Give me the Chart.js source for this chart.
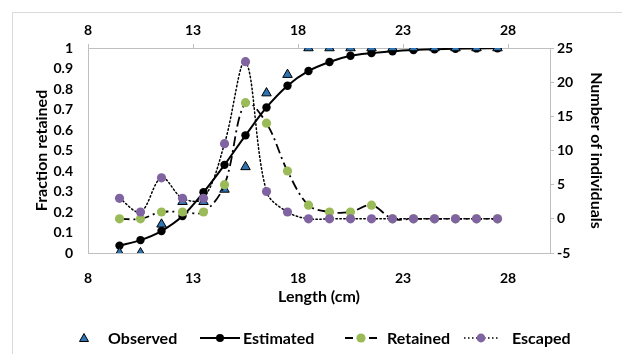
<!DOCTYPE html>
<html><head><meta charset="utf-8">
<script src="https://cdn.jsdelivr.net/npm/chart.js@4/dist/chart.umd.min.js"></script>
<style>
html,body{margin:0;padding:0;background:#fff;}
#wrap{position:relative;width:622px;height:354px;overflow:hidden;background:#fff;}
#frame{position:absolute;left:12px;top:12px;width:700px;height:500px;border:1px solid #d9d9d9;}
#c{position:absolute;left:0;top:0;}
.leg{position:absolute;top:328px;height:20px;font:bold 16px Lato, sans-serif;color:#000;white-space:nowrap;line-height:20px;}
.leg svg{position:absolute;top:0;left:0;}
.leg span{position:absolute;top:0;}
</style></head>
<body>
<div id="wrap">
<div id="frame"></div>
<canvas id="c" width="622" height="354"></canvas>
<div class="leg" style="left:78px"><svg width="14" height="20"><polygon points="6,5.5 10.5,13.5 1.5,13.5" fill="#2E75B6" stroke="#000" stroke-width="1"/></svg><span style="left:30px">Observed</span></div>
<div class="leg" style="left:200px"><svg width="42" height="20"><line x1="0" y1="10" x2="40" y2="10" stroke="#000" stroke-width="2"/><circle cx="20" cy="10" r="4" fill="#000"/></svg><span style="left:43px">Estimated</span></div>
<div class="leg" style="left:344px"><svg width="36" height="20"><line x1="1" y1="10" x2="9" y2="10" stroke="#000" stroke-width="2"/><line x1="25" y1="10" x2="33" y2="10" stroke="#000" stroke-width="2"/><circle cx="17" cy="10" r="4.6" fill="#9BBB59"/></svg><span style="left:43px">Retained</span></div>
<div class="leg" style="left:463px"><svg width="40" height="20"><line x1="1" y1="10" x2="37" y2="10" stroke="#000" stroke-width="1.5" stroke-dasharray="1.5 2.5"/><circle cx="18" cy="10" r="4.4" fill="#8064A2"/></svg><span style="left:49px">Escaped</span></div>
</div>
<script>
const lengths   = [9.5,10.5,11.5,12.5,13.5,14.5,15.5,16.5,17.5,18.5,19.5,20.5,21.5,22.5,23.5,24.5,25.5,26.5,27.5];
const observed  = [0,0,0.14,0.25,0.25,0.31,0.42,0.78,0.87,1,1,1,1,1,1,1,1,1,1];
const estimated = [0.036,0.063,0.107,0.18,0.296,0.43,0.574,0.71,0.816,0.888,0.932,0.962,0.975,0.984,0.99,0.994,0.996,0.998,0.999];
const retained  = [0,0,1,1,1,5,17,14,7,2,1,1,2,0,0,0,0,0,0];
const escaped   = [3,1,6,3,3,11,23,4,1,0,0,0,0,0,0,0,0,0,0];
const xTicks     = [8,13,18,23,28];
const leftTicks  = [0,0.1,0.2,0.3,0.4,0.5,0.6,0.7,0.8,0.9,1];
const rightTicks = [-5,0,5,10,15,20,25];

const pts = arr => lengths.map((x,i)=>({x:x,y:arr[i]}));
const tickFont = {family:'Lato, sans-serif', size:14, weight:'bold'};
const titleFont = {family:'Lato, sans-serif', size:16, weight:'bold'};
const axisGray = '#bfbfbf';
const setTicks = arr => (s => { s.ticks = arr.map(v=>({value:v})); });

new Chart(document.getElementById('c'), {
  type:'line',
  data:{ datasets:[
    {label:'Escaped', data:pts(escaped), yAxisID:'y2', xAxisID:'x', order:0,
     borderColor:'#000', borderWidth:1.5, borderDash:[1.5,2.5], borderCapStyle:'round', tension:0.35,
     pointRadius:4.6, pointBackgroundColor:'#8064A2', pointBorderColor:'#8064A2', pointBorderWidth:0},
    {label:'Retained', data:pts(retained), yAxisID:'y2', xAxisID:'x', order:1,
     borderColor:'#000', borderWidth:1.8, borderDash:[10,4,2,4], tension:0.35,
     pointRadius:4.6, pointBackgroundColor:'#9BBB59', pointBorderColor:'#9BBB59', pointBorderWidth:0},
    {label:'Observed', data:pts(observed), yAxisID:'y', xAxisID:'x', order:2, showLine:false,
     pointStyle:'triangle', pointRadius:5.5, pointBackgroundColor:'#2E75B6', pointBorderColor:'#000', pointBorderWidth:1},
    {label:'Estimated', data:pts(estimated), yAxisID:'y', xAxisID:'x', order:3,
     borderColor:'#000', borderWidth:2, tension:0.3,
     pointRadius:4.2, pointBackgroundColor:'#000', pointBorderColor:'#000', pointBorderWidth:0}
  ]},
  options:{
    responsive:false, animation:false,
    layout:{padding:{left:28,right:12,top:14,bottom:44}},
    plugins:{legend:{display:false}, tooltip:{enabled:false}},
    scales:{
      x:{type:'linear', position:'bottom', min:8, max:30, afterBuildTicks:setTicks(xTicks),
         grid:{display:false}, border:{display:true,color:axisGray,width:1},
         ticks:{font:tickFont, color:'#000', padding:9, maxRotation:0},
         title:{display:true, text:'Length (cm)', font:titleFont, color:'#000', padding:{top:4,bottom:4}},
         afterFit:s=>{s.height=57;}},
      x2:{type:'linear', position:'top', min:8, max:30, afterBuildTicks:setTicks(xTicks),
         grid:{display:true, drawOnChartArea:false, drawTicks:true, tickLength:4, color:axisGray},
         border:{display:true,color:axisGray,width:1},
         ticks:{font:tickFont, color:'#000', padding:5, maxRotation:0},
         afterFit:s=>{s.height=34;}},
      y:{type:'linear', position:'left', min:0, max:1, afterBuildTicks:setTicks(leftTicks),
         grid:{display:false}, border:{display:true,color:axisGray,width:1},
         ticks:{font:tickFont, color:'#000', padding:7, callback:v=>String(Math.round(v*10)/10)},
         title:{display:true, text:'Fraction retained', font:titleFont, color:'#000', padding:{top:4,bottom:4}},
         afterFit:s=>{s.width=60;}},
      y2:{type:'linear', position:'right', min:-5, max:25, afterBuildTicks:setTicks(rightTicks),
         grid:{display:true, drawOnChartArea:false, drawTicks:true, tickLength:4, color:axisGray},
         border:{display:true,color:axisGray,width:1},
         ticks:{font:tickFont, color:'#000', padding:3},
         title:{display:true, text:'Number of individuals', font:titleFont, color:'#000', padding:{top:4,bottom:4}},
         afterFit:s=>{s.width=60;}}
    }
  }
});
</script>
</body></html>
